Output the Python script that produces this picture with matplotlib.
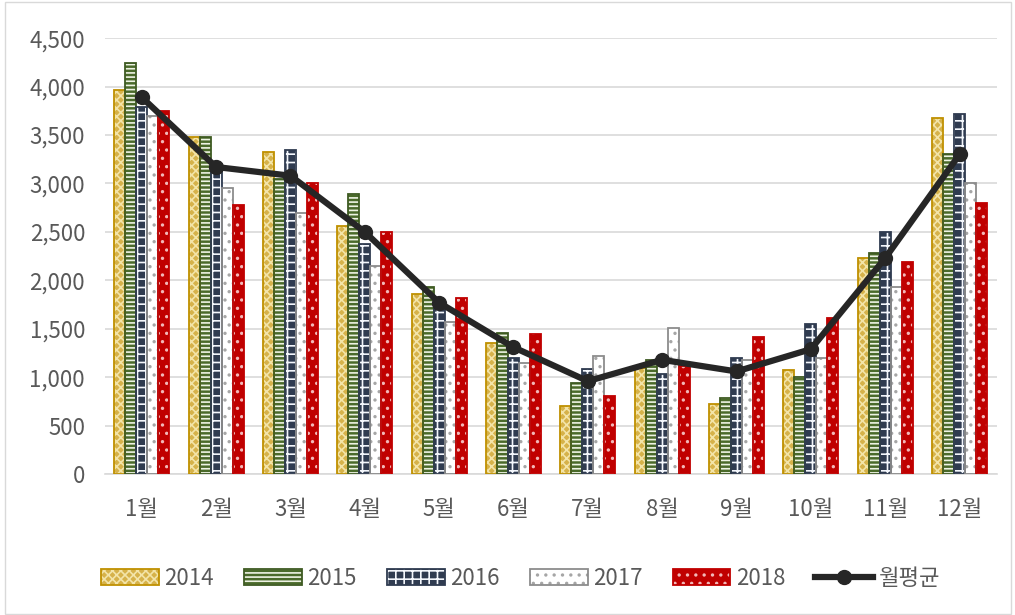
import matplotlib.pyplot as plt
import numpy as np
from matplotlib.legend_handler import HandlerTuple
from matplotlib.patches import Rectangle

plt.rcParams["font.family"] = ["Noto Sans CJK KR", "DejaVu Sans"]
plt.rcParams["hatch.linewidth"] = 1.2

months = ["1월", "2월", "3월", "4월", "5월", "6월", "7월", "8월", "9월", "10월", "11월", "12월"]
years = ["2014", "2015", "2016", "2017", "2018"]

v2014 = [3960, 3480, 3320, 2560, 1860, 1350, 700, 1100, 720, 1080, 2230, 3680]
v2015 = [4240, 3480, 3050, 2890, 1930, 1460, 940, 1180, 790, 1000, 2280, 3300]
v2016 = [3790, 3200, 3350, 2380, 1700, 1200, 1090, 1030, 1200, 1550, 2500, 3720]
v2017 = [3700, 2950, 2700, 2150, 1570, 1150, 1220, 1510, 1180, 1200, 1930, 3000]
v2018 = [3750, 2780, 3000, 2500, 1820, 1450, 810, 1120, 1420, 1610, 2190, 2800]
avg = [3890, 3170, 3080, 2500, 1770, 1310, 960, 1180, 1060, 1290, 2230, 3300]

series = [v2014, v2015, v2016, v2017, v2018]
# (face, hatch colour, hatch, edge)
styles = [
    ("#D6B24A", "#F3E4A8", "xxxx", "#BF9000"),
    ("#4A6A2A", "#EEF3E4", "----", "#3E5A22"),
    ("#2F3B50", "#F4F7FC", "++", "#2F3B50"),
    ("#FFFFFF", "#A6A6A6", "..", "#8C8C8C"),
    ("#C00000", "#F2B8B8", "..", "#C00000"),
]

fig = plt.figure(figsize=(10.15, 6.15), dpi=100)
ax = fig.add_axes([0.103, 0.229, 0.879, 0.709])

x = np.arange(len(months))
width = 0.148
handles = []
for i, (vals, (face, hcol, hatch, edge)) in enumerate(zip(series, styles)):
    pos = x + (i - 2) * width
    ax.bar(pos, vals, width, color=face, edgecolor=hcol, hatch=hatch,
           linewidth=0, zorder=2)
    ax.bar(pos, vals, width, facecolor="none", edgecolor=edge,
           linewidth=1.3, zorder=3)
    fill = Rectangle((0, 0), 1, 1, facecolor=face, edgecolor=hcol, hatch=hatch,
                     linewidth=0)
    outline = Rectangle((0, 0), 1, 1, facecolor="none", edgecolor=edge,
                        linewidth=1.3)
    handles.append((fill, outline))

line, = ax.plot(x, avg, color="#262626", linewidth=4.5, marker="o",
                markersize=10, zorder=4)
handles.append(line)

ax.set_ylim(0, 4500)
ax.set_xlim(-0.5, len(months) - 0.5)
ax.set_yticks(np.arange(0, 4501, 500))
ax.set_yticklabels([f"{v:,}" for v in range(0, 4501, 500)])
ax.set_xticks(x)
ax.set_xticklabels(months)
ax.tick_params(axis="both", length=0, labelsize=16, colors="#595959")
ax.tick_params(axis="x", pad=17)
ax.tick_params(axis="y", pad=14)
ax.grid(axis="y", color="#D9D9D9", linewidth=1.2, zorder=0)
ax.set_axisbelow(True)
for s in ["top", "right", "left"]:
    ax.spines[s].set_visible(False)
ax.spines["bottom"].set_color("#D9D9D9")
ax.spines["bottom"].set_linewidth(1.2)

fig.legend(handles, years + ["월평균"], loc="center", bbox_to_anchor=(0.513, 0.06),
           ncol=6, frameon=False, fontsize=16, handlelength=2.6, handleheight=0.7,
           columnspacing=1.35, handletextpad=0.25, labelcolor="#595959",
           handler_map={tuple: HandlerTuple(ndivide=1, pad=0)})

fig.patches.append(Rectangle((0.005, 0.002), 0.991, 0.994, transform=fig.transFigure,
                             fill=False, edgecolor="#D9D9D9", linewidth=1))

fig.savefig("out.png", dpi=100)
